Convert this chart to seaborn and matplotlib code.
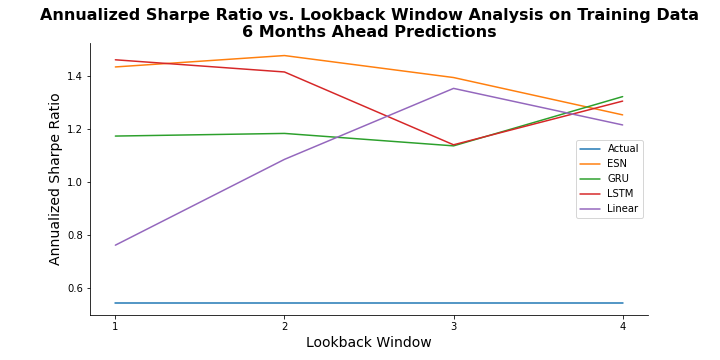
import numpy as np
import pandas as pd
import matplotlib
matplotlib.use("Agg")
import matplotlib.pyplot as plt
import seaborn as sns

windows = [1, 2, 3, 4]
actual = [0.545, 0.545, 0.545, 0.545]
esn = [1.435, 1.478, 1.395, 1.254]
gru = [1.174, 1.184, 1.137, 1.323]
lstm = [1.462, 1.416, 1.141, 1.306]
linear = [0.762, 1.086, 1.354, 1.216]
models = ["Actual", "ESN", "GRU", "LSTM", "Linear"]

rows = []
for name, vals in zip(models, [actual, esn, gru, lstm, linear]):
    for w, v in zip(windows, vals):
        rows.append({"Lookback Window": w, "Sharpe": v, "Model": name})
df = pd.DataFrame(rows)

sns.set_style("ticks")
plt.rcParams['font.family'] = ['DejaVu Sans']
plt.rcParams.update({
    "text.color": "black",
    "axes.labelcolor": "black",
    "xtick.color": "black",
    "ytick.color": "black",
    "axes.edgecolor": "black",
})
fig, ax = plt.subplots(figsize=(10, 5), dpi=72)
fig.subplots_adjust(left=0.125, right=0.9, bottom=0.125, top=0.88)

sns.lineplot(data=df, x="Lookback Window", y="Sharpe", hue="Model",
             palette=sns.color_palette("tab10", 5), ax=ax, linewidth=1.5)

ax.set_xticks(windows)
ax.set_xlabel("Lookback Window", fontsize=14)
ax.set_ylabel("Annualized Sharpe Ratio", fontsize=14)
ax.set_title("Annualized Sharpe Ratio vs. Lookback Window Analysis on Training Data\n6 Months Ahead Predictions",
             fontsize=16, fontweight="bold")
ax.tick_params(labelsize=10)
ax.legend(loc="center right", fontsize=10)
sns.despine(ax=ax)
fig.savefig("out.png", dpi=72)
